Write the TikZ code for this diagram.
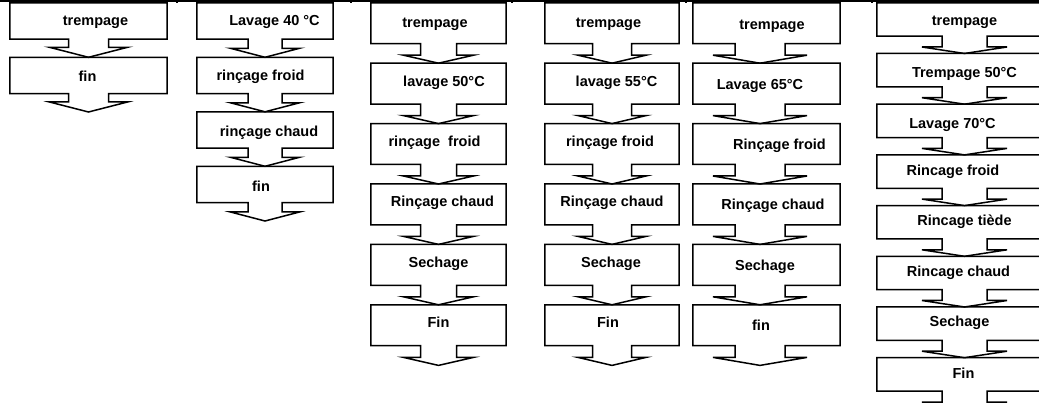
\documentclass[tikz,border=0pt]{standalone}
\usepackage{fontspec}
\setmainfont{Liberation Sans}
\usetikzlibrary{calc}
\tikzset{
box/.style={rectangle, inner sep=0pt}, % the frame is drawn together with its arrow
caption/.style={font=\fontsize{14.5}{17}\selectfont\bfseries, inner sep=0pt, text height=0.72em, text depth=0.21em},
outline/.style={line width=1.5pt, line join=miter}, % box + tail arrow
rule/.style={line width=1.3pt},
}
% box #1 with its tail arrow ending at point #2
% #3 shaft half width, #4 head half width, #5 head height
\newcommand{\flowarrow}[5]{%
  \coordinate (tip) at #2;
  \coordinate (sr) at ($(tip)+(#3,-#5)$);
  \coordinate (sl) at ($(tip)+(-#3,-#5)$);
  \draw[outline] (#1.south west) |- (#1.north east) -- (#1.south east)
    -- (sr |- #1.south) -- (sr) -- ($(tip)+(#4,-#5)$) -- (tip)
    -- ($(tip)+(-#4,-#5)$) -- (sl) -- (sl |- #1.south) -- cycle;}

\begin{document}
\begin{tikzpicture}[x=1pt, y=-1pt]
\useasboundingbox (0,0) rectangle (1039,403);
\clip (0,0) rectangle (1039,403);

% table border at the top
\draw[rule] (0,1) -- (1039,1);
\foreach \x in {177,351,512,686,872,1031}
  \draw[rule] (\x,0) -- (\x,3.5);

% column 1
\foreach \txt/\dx/\dy [count=\i] in {trempage/7/2, fin/-1/3}
  \node[box, minimum width=157, minimum height=36] (c1-\i) at (88.5,{21+(\i-1)*54.5}) {}
    node[caption, xshift=\dx, yshift=-\dy] (t1-\i) at (c1-\i.center) {\txt};
\coordinate (c1-end) at (88.5,112);
\flowarrow{c1-1}{(c1-2.north)}{20}{39}{10}
\flowarrow{c1-2}{(c1-end)}{20}{39}{10}

% column 2
\foreach \txt/\dx/\dy [count=\i] in {Lavage 40 °C/9.5/2, rinçage froid/-4.5/2, rinçage chaud/4/3.5, fin/-4/4}
  \node[box, minimum width=136, minimum height=36] (c2-\i) at (265,{21+(\i-1)*54.5}) {}
    node[caption, xshift=\dx, yshift=-\dy] (t2-\i) at (c2-\i.center) {\txt};
\coordinate (c2-end) at (265,221);
\foreach \i [evaluate=\i as \j using int(\i+1)] in {1,...,3}
  {\flowarrow{c2-\i}{(c2-\j.north)}{17}{34.5}{9}}
\flowarrow{c2-4}{(c2-end)}{17}{34.5}{9}

% column 3
\foreach \txt/\dx/\dy [count=\i] in {trempage/-3.5/2, lavage 50°C/5.5/0, rinçage\ \ froid/-4/0, Rinçage chaud/4/0, Sechage/0/0, Fin/0/0}
  \node[box, minimum width=135, minimum height=40.5] (c3-\i) at (438.5,{23.25+(\i-1)*60.4}) {}
    node[caption, xshift=\dx, yshift=-\dy] (t3-\i) at (c3-\i.center) {\txt};
\coordinate (c3-end) at (438.5,365.4);
\foreach \i [evaluate=\i as \j using int(\i+1)] in {1,...,5}
  {\flowarrow{c3-\i}{(c3-\j.north)}{18}{35}{8}}
\flowarrow{c3-6}{(c3-end)}{18}{35}{8}

% column 4
\foreach \txt/\dx/\dy [count=\i] in {trempage/-3.5/2, lavage 55°C/4.5/0, rinçage froid/-2/0, Rinçage chaud/0/0, Sechage/-1/0, Fin/-4/0}
  \node[box, minimum width=134, minimum height=40.5] (c4-\i) at (612,{23.25+(\i-1)*60.4}) {}
    node[caption, xshift=\dx, yshift=-\dy] (t4-\i) at (c4-\i.center) {\txt};
\coordinate (c4-end) at (612,365.4);
\foreach \i [evaluate=\i as \j using int(\i+1)] in {1,...,5}
  {\flowarrow{c4-\i}{(c4-\j.north)}{19.5}{34}{8}}
\flowarrow{c4-6}{(c4-end)}{19.5}{34}{8}

% column 5 (arrows a little left of the box centre)
\foreach \txt/\dx/\dy [count=\i] in {trempage/5.5/4, Lavage 65°C/-6.5/3, Rinçage froid/13/3, Rinçage chaud/6.5/3, Sechage/-1.5/3, fin/-5.5/3}
  \node[box, minimum width=147, minimum height=40.5] (c5-\i) at (766.5,{23.25+(\i-1)*60.4}) {}
    node[caption, xshift=\dx, yshift=-\dy] (t5-\i) at (c5-\i.center) {\txt};
\coordinate (c5-end) at (760,365.4);
\foreach \i [evaluate=\i as \j using int(\i+1)] in {1,...,5}
  {\flowarrow{c5-\i}{($(c5-\j.north)+(-6.5,0)$)}{25}{47}{8}}
\flowarrow{c5-6}{(c5-end)}{25}{47}{8}

% column 6 (runs past the right and bottom edges)
\foreach \txt/\dx/\dy [count=\i] in {trempage/0/3, Trempage 50°C/0/5, Lavage 70°C/-12/5, Rincage froid/-11.5/1, Rincage tiède/0/1, Rincage chaud/-6/1, Sechage/-5/0, Fin/-1/2}
  \node[box, minimum width=175, minimum height=33] (c6-\i) at (964.5,{19.5+(\i-1)*50.7}) {}
    node[caption, xshift=\dx, yshift=-\dy] (t6-\i) at (c6-\i.center) {\txt};
\coordinate (c6-end) at (964.5,408.6);
\foreach \i [evaluate=\i as \j using int(\i+1)] in {1,...,7}
  {\flowarrow{c6-\i}{(c6-\j.north)}{22.5}{42.5}{6.5}}
\flowarrow{c6-8}{(c6-end)}{22.5}{42.5}{6.5}
\end{tikzpicture}
\end{document}
